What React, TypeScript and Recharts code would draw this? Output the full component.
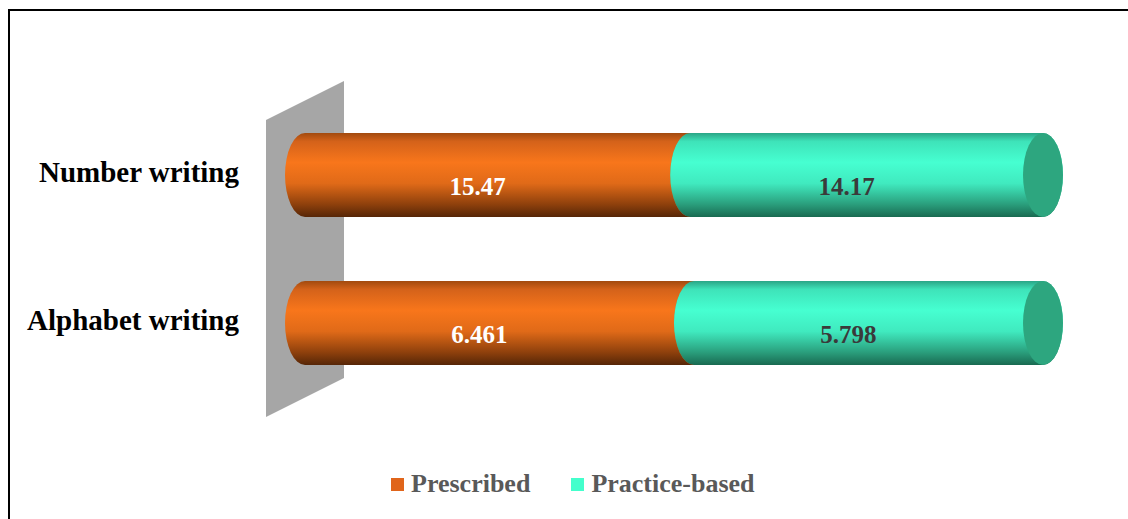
import React from 'react';
import { BarChart, Bar, XAxis, YAxis, LabelList } from 'recharts';

const categories = ['Number writing', 'Alphabet writing'];
const prescribed = [15.47, 6.461];
const practiceBased = [14.17, 5.798];
const seriesNames = ['Prescribed', 'Practice-based'];

const data = categories.map((c, i) => ({
  category: c,
  prescribed: prescribed[i],
  practice: practiceBased[i],
}));

const W = 1128;
const H = 519;
const MARGIN = { top: 101, right: 85, bottom: 122, left: 0 };
const YW = 305;
const RX = 20;
const FONT = '"Liberation Serif", "Times New Roman", serif';

const orangeStops: [number, string][] = [
  [0, '#a24a0e'],
  [0.1, '#d4621a'],
  [0.35, '#f8761b'],
  [0.6, '#e06a18'],
  [0.85, '#8e400c'],
  [1, '#562607'],
];
const tealStops: [number, string][] = [
  [0, '#2aa586'],
  [0.1, '#3ee3b9'],
  [0.35, '#46ffd1'],
  [0.6, '#40eabf'],
  [0.85, '#2a9e7c'],
  [1, '#196a51'],
];

function makeCylinder(key: string, stops: [number, string][], capColor: string) {
  return (props: any) => {
    const { x, y, width, height, index } = props;
    const ry = height / 2;
    const id = `grad-${key}-${index}`;
    const d = `M${x},${y} L${x + width},${y} A${RX},${ry} 0 0 1 ${x + width},${y + height} L${x},${y + height} A${RX},${ry} 0 0 1 ${x},${y} Z`;
    return (
      <g>
        <defs>
          <linearGradient id={id} x1="0" y1="0" x2="0" y2="1">
            {stops.map(([o, c], i) => (
              <stop key={i} offset={o} stopColor={c} />
            ))}
          </linearGradient>
        </defs>
        <path d={d} fill={`url(#${id})`} />
        <ellipse cx={x + width} cy={y + ry} rx={RX} ry={ry} fill={capColor} />
      </g>
    );
  };
}

function makeLabel(values: number[], color: string) {
  return (props: any) => {
    const { x, y, width, height, index } = props;
    return (
      <text
        x={x + width / 2 - RX}
        y={y + height / 2 + 20}
        textAnchor="middle"
        fill={color}
        fontFamily={FONT}
        fontWeight="bold"
        fontSize={25}
      >
        {String(values[index])}
      </text>
    );
  };
}

const CategoryTick = (props: any) => {
  const { x, y, payload } = props;
  return (
    <text
      x={x - 1}
      y={y + 7}
      textAnchor="end"
      fill="#000000"
      fontFamily={FONT}
      fontWeight="bold"
      fontSize={29}
    >
      {payload.value}
    </text>
  );
};

export default function App() {
  const plotLeft = MARGIN.left + YW;
  const plotTop = MARGIN.top;
  const plotBottom = H - MARGIN.bottom;
  const wall = [
    [plotLeft - 39, plotTop + 19],
    [plotLeft + 39, plotTop - 20],
    [plotLeft + 39, plotBottom - 19],
    [plotLeft - 39, plotBottom + 20],
  ]
    .map((p) => p.join(','))
    .join(' ');

  return (
    <div style={{ position: 'absolute', left: 0, top: 0, width: W, height: H, overflow: 'hidden', background: '#fff' }}>
      <div
        style={{
          position: 'absolute',
          left: 8,
          top: 9,
          width: W,
          height: H,
          borderTop: '2px solid #000',
          borderLeft: '2px solid #000',
        }}
      />
      <svg width={W} height={H} style={{ position: 'absolute', left: 0, top: 0 }}>
        <polygon points={wall} fill="#a6a6a6" />
      </svg>
      <div style={{ position: 'absolute', left: 0, top: 0 }}>
        <BarChart
          width={W}
          height={H}
          data={data}
          layout="vertical"
          stackOffset="expand"
          margin={MARGIN}
          barSize={84}
        >
          <XAxis type="number" hide domain={[0, 1]} />
          <YAxis
            type="category"
            dataKey="category"
            width={YW}
            axisLine={false}
            tickLine={false}
            tickSize={0}
            tickMargin={65}
            tick={<CategoryTick />}
            interval={0}
          />
          <Bar
            dataKey="prescribed"
            name={seriesNames[0]}
            stackId="a"
            isAnimationActive={false}
            shape={makeCylinder('p', orangeStops, '#c85a14')}
          >
            <LabelList dataKey="prescribed" content={makeLabel(prescribed, '#ffffff')} />
          </Bar>
          <Bar
            dataKey="practice"
            name={seriesNames[1]}
            stackId="a"
            isAnimationActive={false}
            shape={makeCylinder('t', tealStops, '#2da67f')}
          >
            <LabelList dataKey="practice" content={makeLabel(practiceBased, '#3a3a3a')} />
          </Bar>
        </BarChart>
      </div>
      <div
        style={{
          position: 'absolute',
          left: 391,
          top: 471,
          display: 'flex',
          alignItems: 'center',
          fontFamily: FONT,
          fontWeight: 'bold',
          fontSize: 26,
          lineHeight: 1,
          color: '#595959',
          whiteSpace: 'nowrap',
        }}
      >
        <span style={{ display: 'inline-block', width: 13, height: 13, background: '#e0651b', marginRight: 7 }} />
        <span style={{ marginRight: 41 }}>{seriesNames[0]}</span>
        <span style={{ display: 'inline-block', width: 13, height: 13, background: '#44ffcc', marginRight: 7 }} />
        <span>{seriesNames[1]}</span>
      </div>
    </div>
  );
}
